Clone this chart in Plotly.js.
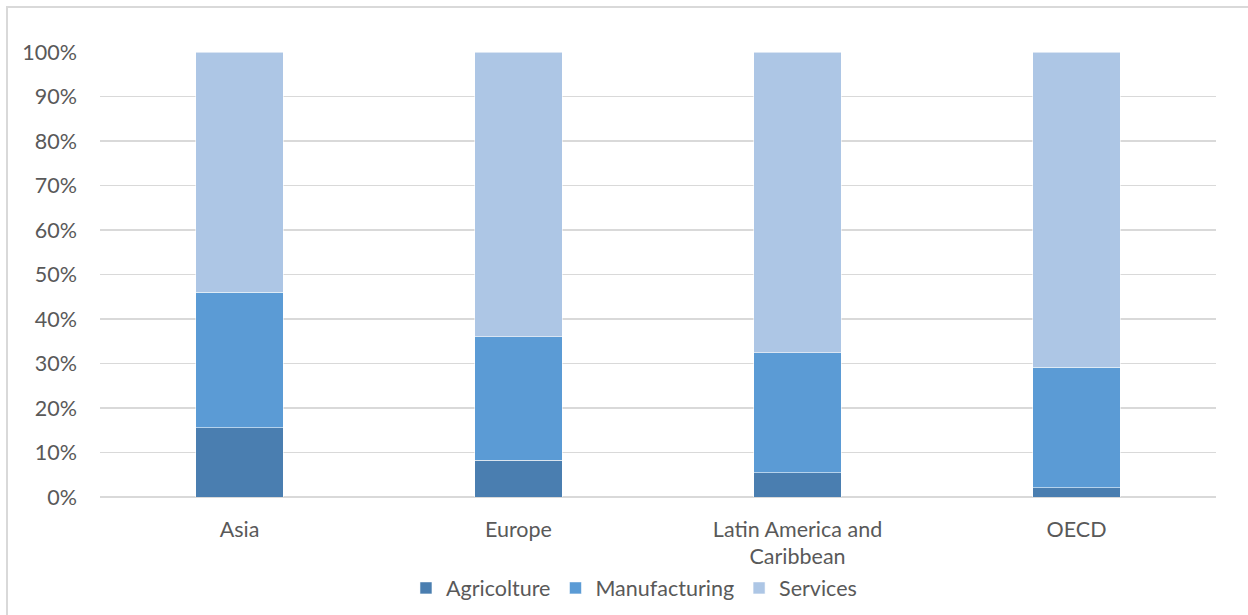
<!DOCTYPE html>
<html>
<head>
<meta charset="utf-8">
<script src="https://cdn.plot.ly/plotly-3.0.1.min.js"></script>
<style>
  html, body { margin: 0; padding: 0; background: #ffffff; }
  #wrap { position: relative; width: 1248px; height: 615px; overflow: hidden; }
  #chart { width: 1248px; height: 615px; }
  #frame { position: absolute; left: 6px; top: 6px; width: 1300px; height: 700px;
           border-left: 2px solid #d9d9d9; border-top: 2px solid #d9d9d9;
           pointer-events: none; box-sizing: border-box; }
</style>
</head>
<body>
<div id="wrap">
  <div id="chart"></div>
  <div id="frame"></div>
</div>
<script>
// Regions and the share of each sector (percent of total)
const regions = ['Asia', 'Europe', 'Latin America and<br>Caribbean', 'OECD'];
const agricolture = [15.6, 8.3, 5.4, 2.1];
const manufacturing = [30.4, 27.7, 27.0, 27.1];
const services = [54.0, 64.0, 67.6, 70.8];

const seriesNames = ['Agricolture', 'Manufacturing', 'Services'];
const seriesColors = ['#4a7eb0', '#5b9bd5', '#adc6e5'];
const seriesValues = [agricolture, manufacturing, services];

const font = "Lato, 'Open Sans', sans-serif";
const textColor = '#595959';
const fontSize = 21.5;

const traces = seriesValues.map((vals, i) => ({
  type: 'bar',
  name: seriesNames[i],
  x: regions,
  y: vals.map(v => v / 100),
  marker: { color: seriesColors[i], line: { color: 'rgba(255,255,255,0.55)', width: 1 } },
  hoverinfo: 'x+y+name'
}));

const layout = {
  width: 1248,
  height: 615,
  barmode: 'stack',
  bargap: 0.688,
  paper_bgcolor: '#ffffff',
  plot_bgcolor: '#ffffff',
  margin: { l: 100, r: 32, t: 52, b: 118 },
  font: { family: font, size: fontSize, color: textColor },
  showlegend: true,
  legend: {
    orientation: 'h',
    xref: 'container', yref: 'container',
    x: 0.508, xanchor: 'center',
    y: 0.044, yanchor: 'middle',
    font: { family: font, size: fontSize, color: textColor },
    traceorder: 'normal',
    itemwidth: 30
  },
  xaxis: {
    type: 'category',
    showgrid: false,
    showline: false,
    ticks: '',
    ticklabelstandoff: 17,
    tickfont: { family: font, size: fontSize, color: textColor },
    fixedrange: true
  },
  yaxis: {
    range: [0, 1],
    dtick: 0.1,
    tickformat: '.0%',
    showgrid: true,
    gridcolor: '#d9d9d9',
    gridwidth: 1.5,
    zeroline: true,
    zerolinecolor: '#d9d9d9',
    zerolinewidth: 2,
    showline: false,
    ticks: '',
    ticklabelstandoff: 22,
    tickfont: { family: font, size: fontSize, color: textColor },
    fixedrange: true
  }
};

Plotly.newPlot('chart', traces, layout, { displayModeBar: false, staticPlot: true });
</script>
</body>
</html>
